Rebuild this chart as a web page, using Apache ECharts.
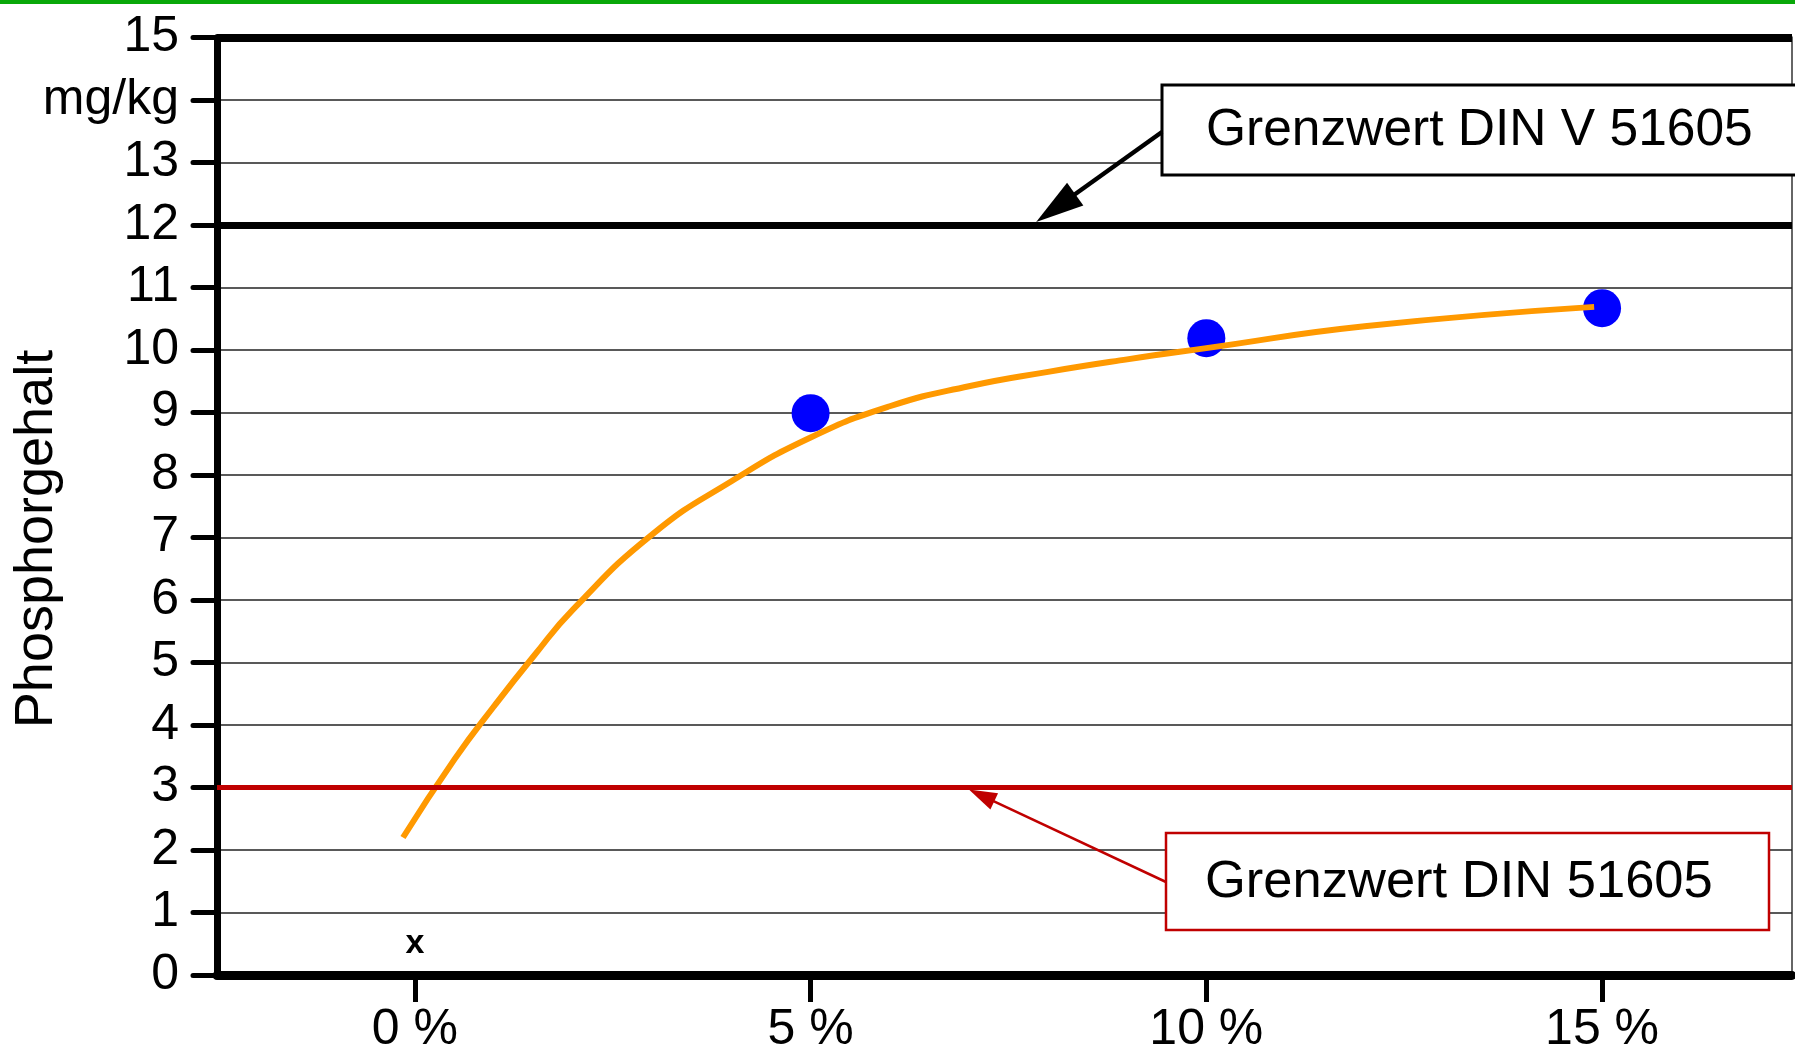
<!DOCTYPE html>
<html>
<head>
<meta charset="utf-8">
<title>Phosphorgehalt</title>
<script src="https://cdn.jsdelivr.net/npm/echarts@6/dist/echarts.min.js"></script>
<style>
  html, body { margin: 0; padding: 0; background: #fff; }
  #chart { width: 1795px; height: 1056px; }
</style>
</head>
<body>
<div id="chart"></div>
<script>
  // Messwerte (Anteil in %, Phosphorgehalt mg/kg)
  var blendPercent = [5, 10, 15];
  var phosphor = [8.99, 10.19, 10.67];

  // Trendlinie
  var trendX = [-0.15, 0.5, 1.0, 1.5, 2.0, 3.0, 4.0, 5.0, 6.0, 7.0, 8.0, 9.0, 10.0, 12.0, 14.9];
  var trendY = [2.2, 3.45, 4.3, 5.1, 5.85, 7.05, 7.9, 8.6, 9.1, 9.42, 9.65, 9.85, 10.03, 10.38, 10.69];

  // Wert bei 0 % (nur als "x" markiert)
  var zeroMarkX = [0];
  var zeroMarkY = [0.5];

  // Achsenbeschriftung
  var xTicks = [0, 5, 10, 15];
  var yTickLabels = ['0', '1', '2', '3', '4', '5', '6', '7', '8', '9', '10', '11', '12', '13', 'mg/kg', '15'];

  // Grenzwerte
  var limitNew = 3;    // DIN 51605
  var limitOld = 12;   // DIN V 51605
  var topLine = 15;

  var FONT = '"Liberation Sans", Arial, Helvetica, sans-serif';

  var chart = echarts.init(document.getElementById('chart'));

  var option = {
    animation: false,
    backgroundColor: '#fff',
    grid: {
      left: 217,
      top: 37.5,
      right: 3,
      bottom: 81,
      show: true,
      borderColor: '#666',
      borderWidth: 2
    },
    xAxis: {
      type: 'value',
      min: -2.5,
      max: 17.4,
      axisLine: { show: true, onZero: false, lineStyle: { color: '#000', width: 9 } },
      axisTick: { show: true, customValues: xTicks, length: 27, lineStyle: { color: '#000', width: 5 } },
      axisLabel: {
        customValues: xTicks,
        formatter: function (v) { return v + ' %'; },
        fontSize: 50, fontFamily: FONT, color: '#000', margin: 30
      },
      splitLine: { show: false }
    },
    yAxis: {
      type: 'value',
      min: 0,
      max: 15,
      interval: 1,
      axisLine: { show: true, onZero: false, lineStyle: { color: '#000', width: 7 } },
      axisTick: { show: true, length: 24, lineStyle: { color: '#000', width: 5, cap: 'round' } },
      axisLabel: {
        formatter: function (v) { return yTickLabels[Math.round(v)]; },
        fontSize: 50, fontFamily: FONT, color: '#000', margin: 38
      },
      splitLine: { show: true, lineStyle: { color: '#222', width: 1.5 } }
    },
    series: [
      {
        name: 'Messwerte',
        type: 'scatter',
        z: 2,
        symbol: 'circle',
        symbolSize: 38,
        itemStyle: { color: '#0000ff', opacity: 1 },
        data: blendPercent.map(function (x, i) { return [x, phosphor[i]]; }),
        markLine: {
          silent: true,
          symbol: ['none', 'none'],
          label: { show: false },
          data: [
            { yAxis: topLine, lineStyle: { color: '#000', width: 8, type: 'solid' } },
            { yAxis: limitOld, lineStyle: { color: '#000', width: 7, type: 'solid' } },
            { yAxis: limitNew, lineStyle: { color: '#c00000', width: 5, type: 'solid' } }
          ]
        }
      },
      {
        name: 'Trend',
        type: 'line',
        z: 4,
        smooth: 0.5,
        showSymbol: false,
        lineStyle: { color: '#ff9900', width: 6, cap: 'butt' },
        data: trendX.map(function (x, i) { return [x, trendY[i]]; })
      },
      {
        name: 'x',
        type: 'scatter',
        z: 3,
        symbolSize: 1,
        itemStyle: { color: 'rgba(0,0,0,0)', opacity: 1 },
        label: {
          show: true, position: 'inside', formatter: 'x',
          fontSize: 34, fontWeight: 'bold', fontFamily: FONT, color: '#000'
        },
        data: zeroMarkX.map(function (x, i) { return [x, zeroMarkY[i]]; })
      }
    ]
  };

  chart.setOption(option);

  // Pfeil: Linie plus gefüllte Spitze
  function arrow(x0, y0, x1, y1, color, width, headLen, headHalf) {
    var dx = x1 - x0, dy = y1 - y0;
    var len = Math.sqrt(dx * dx + dy * dy);
    var ux = dx / len, uy = dy / len;
    var bx = x1 - ux * headLen, by = y1 - uy * headLen;
    return [
      {
        type: 'line', z: 100,
        shape: { x1: x0, y1: y0, x2: bx + ux * 2, y2: by + uy * 2 },
        style: { stroke: color, lineWidth: width }
      },
      {
        type: 'polygon', z: 100,
        shape: { points: [[x1, y1], [bx - uy * headHalf, by + ux * headHalf], [bx + uy * headHalf, by - ux * headHalf]] },
        style: { fill: color }
      }
    ];
  }

  var tipOld = chart.convertToPixel({ gridIndex: 0 }, [7.85, limitOld]);
  var tipNew = chart.convertToPixel({ gridIndex: 0 }, [7.0, limitNew]);

  var graphics = [
    { type: 'rect', z: 100, shape: { x: 0, y: 0, width: 1795, height: 4 }, style: { fill: '#09a809' } },
    {
      type: 'text', z: 100, x: 37, y: 539, rotation: Math.PI / 2,
      style: { text: 'Phosphorgehalt', fontSize: 54, fontFamily: FONT, fill: '#000', align: 'center', verticalAlign: 'middle' }
    },
    { type: 'rect', z: 100, shape: { x: 1162, y: 85, width: 700, height: 90 }, style: { fill: '#fff', stroke: '#000', lineWidth: 3 } },
    {
      type: 'text', z: 101, x: 1206, y: 131,
      style: { text: 'Grenzwert DIN V 51605', fontSize: 51.5, fontFamily: FONT, fill: '#000', align: 'left', verticalAlign: 'middle' }
    },
    { type: 'rect', z: 100, shape: { x: 1166, y: 833, width: 603, height: 97 }, style: { fill: '#fff', stroke: '#c00000', lineWidth: 2.5 } },
    {
      type: 'text', z: 101, x: 1205, y: 883,
      style: { text: 'Grenzwert DIN 51605', fontSize: 52.5, fontFamily: FONT, fill: '#000', align: 'left', verticalAlign: 'middle' }
    }
  ];
  graphics = graphics.concat(arrow(1162, 132, tipOld[0], tipOld[1] - 3, '#000', 4.5, 48, 14));
  graphics = graphics.concat(arrow(1166, 882, tipNew[0], tipNew[1] + 2, '#c00000', 2.5, 28, 9));

  chart.setOption({ graphic: graphics });
</script>
</body>
</html>
